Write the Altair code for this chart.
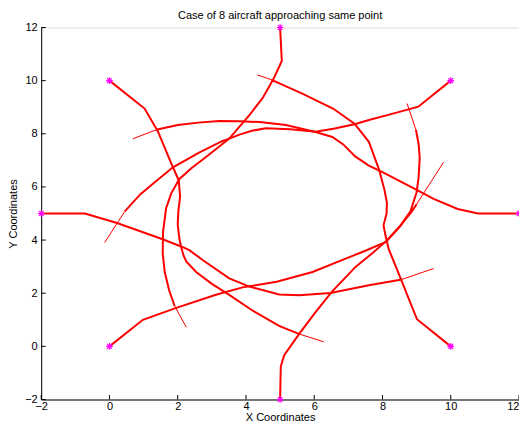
import altair as alt
import pandas as pd

# ---- data ----
# starting points of the 8 aircraft
start_x = [5, 10, 12, 10, 5, 0, -2, 0]
start_y = [12, 10, 5, 0, -2, 0, 5, 10]

# trajectories (last segment of every path is the thin tail)
path_from_top_x = [5, 5.05, 4.8, 4.49, 4.1, 3.51, 3.2, 2.8, 2.4, 2.05, 1.81, 1.66, 1.57, 1.56, 1.62, 1.75, 1.91, 2.25]
path_from_top_y = [12, 10.74, 10.05, 9.35, 8.7, 7.82, 7.5, 7.1, 6.7, 6.3, 5.76, 5.2, 4.3, 3.5, 2.8, 2.1, 1.52, 0.72]

path_from_ne_x = [10, 9.05, 8.2, 7.6, 7.21, 6.6, 6.04, 5.3, 4.58, 4.2, 3.81, 3.51, 3.3, 2.64, 1.86, 1.3, 0.9, 0.45, -0.14]
path_from_ne_y = [10, 9.02, 8.72, 8.52, 8.37, 8.2, 8.08, 8.17, 8.21, 8.12, 7.97, 7.82, 7.72, 7.3, 6.74, 6.15, 5.72, 5.08, 3.91]

path_from_e_x = [12, 10.8, 10.2, 9.5, 8.96, 8.0, 7.6, 7.2, 6.85, 6.53, 6.04, 5.17, 4.4, 3.81, 3.22, 2.6, 2.0, 1.37, 0.68]
path_from_e_y = [5, 5.0, 5.17, 5.55, 5.92, 6.56, 6.8, 7.15, 7.6, 7.88, 8.07, 8.33, 8.44, 8.47, 8.48, 8.42, 8.33, 8.15, 7.81]

path_from_se_x = [10, 9.01, 8.57, 8.18, 8.09, 8.03, 8.12, 8.13, 8.06, 7.9, 7.6, 7.18, 6.55, 5.65, 4.75, 4.33]
path_from_se_y = [0, 1.02, 2.44, 3.67, 4.16, 4.55, 5.0, 5.4, 5.88, 6.65, 7.7, 8.38, 8.95, 9.51, 10.03, 10.22]

path_from_s_x = [5, 5.02, 5.12, 5.56, 6.0, 6.5, 7.21, 7.7, 8.1, 8.5, 8.82, 9.0, 9.06, 9.09, 9.06, 8.98, 8.72]
path_from_s_y = [-2, -0.76, -0.33, 0.47, 1.22, 2.03, 2.99, 3.5, 3.95, 4.5, 5.08, 5.8, 6.38, 7.11, 7.6, 8.15, 9.14]

path_from_sw_x = [0, 0.98, 1.96, 3.12, 3.9, 4.9, 5.95, 6.92, 7.5, 8.1, 8.5, 8.86, 9.0, 9.79]
path_from_sw_y = [0, 1.0, 1.45, 1.94, 2.22, 2.43, 2.8, 3.3, 3.6, 3.93, 4.5, 5.08, 5.35, 6.93]

path_from_w_x = [-2, -0.72, 0.2, 1.52, 2.1, 2.34, 2.73, 3.51, 4.1, 4.97, 5.56, 6.48, 7.6, 8.57, 9.5]
path_from_w_y = [5, 5.0, 4.65, 4.05, 3.76, 3.62, 3.25, 2.56, 2.25, 1.95, 1.92, 2.01, 2.3, 2.52, 2.93]

path_from_nw_x = [0, 1.03, 1.42, 1.86, 2.03, 2.07, 2.02, 2.0, 2.05, 2.1, 2.17, 2.25, 2.54, 3.0, 3.51, 4.19, 4.97, 5.55, 6.28]
path_from_nw_y = [10, 8.95, 8.09, 6.74, 6.25, 5.64, 5.1, 4.6, 4.04, 3.74, 3.42, 3.2, 2.8, 2.35, 1.94, 1.35, 0.77, 0.47, 0.17]

paths = [
    (path_from_top_x, path_from_top_y),
    (path_from_ne_x, path_from_ne_y),
    (path_from_e_x, path_from_e_y),
    (path_from_se_x, path_from_se_y),
    (path_from_s_x, path_from_s_y),
    (path_from_sw_x, path_from_sw_y),
    (path_from_w_x, path_from_w_y),
    (path_from_nw_x, path_from_nw_y),
]

tick_values = [-2, 0, 2, 4, 6, 8, 10, 12]

# ---- build tables ----
thick_rows, thin_rows = [], []
for k, (xs, ys) in enumerate(paths):
    n = len(xs)
    for i in range(n - 1):
        thick_rows.append({"ac": k, "i": i, "x": xs[i], "y": ys[i]})
    for i in range(n - 2, n):
        thin_rows.append({"ac": k, "i": i, "x": xs[i], "y": ys[i]})
thick_df = pd.DataFrame(thick_rows)
thin_df = pd.DataFrame(thin_rows)
start_df = pd.DataFrame({"x": start_x, "y": start_y})
ticks_df = pd.DataFrame({"t": tick_values})

W, H = 477.8, 372
FONT = "Liberation Sans"

xs = alt.Scale(domain=[-2, 12], nice=False, zero=False)
ys = alt.Scale(domain=[-2, 12], nice=False, zero=False)

x_axis = alt.Axis(values=tick_values, tickSize=0, labelPadding=1, grid=False,
                  domainColor="black", labelColor="black", labelFont=FONT,
                  labelFontSize=11,
                  labelAlign={"condition": {"test": "datum.value == 12", "value": "right"},
                              "value": "center"},
                  title="X Coordinates", titleFont=FONT,
                  titleFontSize=11, titleFontWeight="normal", titleColor="black",
                  titlePadding=-0.5)
y_axis = alt.Axis(values=tick_values, tickSize=0, labelPadding=4, grid=False,
                  domainColor="black", labelColor="black", labelFont=FONT,
                  labelFontSize=11, title="Y Coordinates", titleFont=FONT,
                  titleFontSize=11, titleFontWeight="normal", titleColor="black",
                  titlePadding=6)

base_thick = alt.Chart(thick_df).mark_line(color="#ff0000", strokeWidth=2).encode(
    x=alt.X("x:Q", scale=xs, axis=x_axis),
    y=alt.Y("y:Q", scale=ys, axis=y_axis),
    detail="ac:N",
    order="i:Q",
)
thin = alt.Chart(thin_df).mark_line(color="#ff0000", strokeWidth=1).encode(
    x=alt.X("x:Q", scale=xs),
    y=alt.Y("y:Q", scale=ys),
    detail="ac:N",
    order="i:Q",
)

asterisk = "M-1,0L1,0M0,-1L0,1M-0.7,-0.7L0.7,0.7M-0.7,0.7L0.7,-0.7"
starts = alt.Chart(start_df).mark_point(shape=asterisk, filled=False, color="#ff00ff",
                                        strokeWidth=1.2, size=45, opacity=1).encode(
    x=alt.X("x:Q", scale=xs),
    y=alt.Y("y:Q", scale=ys),
)

xticks = alt.Chart(ticks_df).mark_rule(color="black", strokeWidth=1).encode(
    x=alt.X("t:Q", scale=xs),
    y=alt.value(H),
    y2=alt.value(H - 4.5),
)
yticks = alt.Chart(ticks_df).mark_rule(color="black", strokeWidth=1).encode(
    y=alt.Y("t:Q", scale=ys),
    x=alt.value(0),
    x2=alt.value(4.5),
)

chart = alt.layer(base_thick, thin, xticks, yticks, starts).properties(
    width=W, height=H,
    title=alt.TitleParams("Case of 8 aircraft approaching same point", font=FONT,
                          fontSize=11, fontWeight="normal", color="black", offset=1),
    autosize=alt.AutoSizeParams(type="none"),
    padding={"left": 33.2, "top": 19.5, "right": 0, "bottom": 21.5},
).configure_view(stroke=None).configure(background="white")

chart.save("out.html", embed_options={"renderer": "svg", "actions": False})
